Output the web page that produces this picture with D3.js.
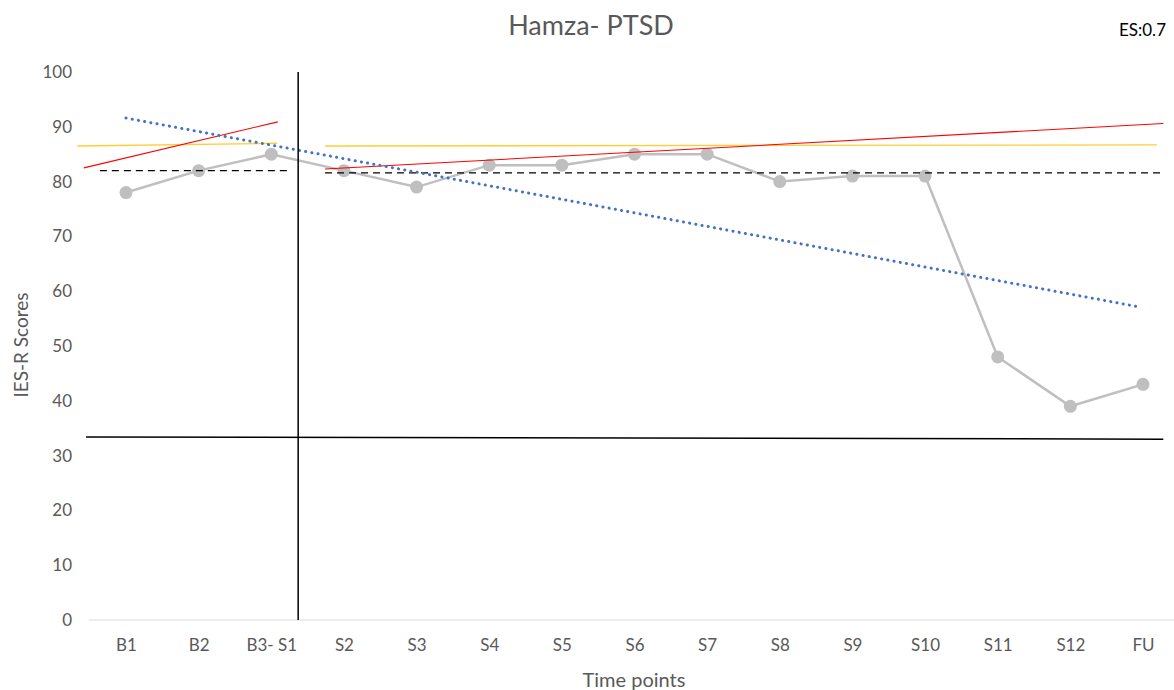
<!DOCTYPE html>
<html>
<head>
<meta charset="utf-8">
<script src="https://cdn.jsdelivr.net/npm/d3@7"></script>
<style>
  html, body { margin: 0; padding: 0; background: #fff; }
  svg { display: block; font-family: Lato, "Open Sans", sans-serif; }
</style>
</head>
<body>
<svg id="chart" width="1174" height="690"></svg>
<script>
// Time points and IES-R scores
const categories = ["B1", "B2", "B3- S1", "S2", "S3", "S4", "S5", "S6", "S7", "S8", "S9", "S10", "S11", "S12", "FU"];
const scores = [78, 82, 85, 82, 79, 83, 83, 85, 85, 80, 81, 81, 48, 39, 43];
const yTicks = [0, 10, 20, 30, 40, 50, 60, 70, 80, 90, 100];

// Reference lines, as [startIndex, startValue, endIndex, endValue] on the category index scale
const baselineMean   = [-0.36, 82.0, 2.26, 82.0];
const treatmentMean  = [2.74, 81.6, 14.28, 81.6];
const baselineLevel  = [-0.67, 86.5, 2.08, 87.0];
const treatmentLevel = [2.74, 86.5, 14.19, 86.7];
const baselineTrend  = [-0.58, 82.5, 2.09, 90.9];
const treatmentTrend = [2.74, 82.3, 14.28, 90.6];
const overallTrend   = [0.0, 91.6, 13.96, 57.1];
const phaseChange    = [2.37, 0, 2.37, 100];
const cutoffLine     = [-0.55, 33.4, 14.28, 33.0];

const svg = d3.select("#chart");

const x = d3.scaleLinear().domain([0, categories.length - 1]).range([126, 1143]);
const y = d3.scaleLinear().domain([0, 100]).range([620, 72]);

// Category baseline
svg.append("line")
  .attr("x1", 89).attr("x2", 1174)
  .attr("y1", y(0)).attr("y2", y(0))
  .attr("stroke", "#d9d9d9").attr("stroke-width", 1.2);

// Y axis labels
const yAxis = d3.axisLeft(y).tickValues(yTicks).tickSize(0).tickPadding(0);
const gy = svg.append("g").attr("transform", "translate(72,0)").call(yAxis);
gy.select(".domain").remove();
gy.selectAll("text").attr("font-size", 17).attr("fill", "#595959")
  .attr("font-family", "Lato, 'Open Sans', sans-serif");

// X axis labels
const xAxis = d3.axisBottom(x).tickValues(d3.range(categories.length))
  .tickFormat(i => categories[i]).tickSize(0).tickPadding(0);
const gx = svg.append("g").attr("transform", "translate(0,639)").call(xAxis);
gx.select(".domain").remove();
gx.selectAll("text").attr("font-size", 17).attr("fill", "#595959")
  .attr("font-family", "Lato, 'Open Sans', sans-serif");

// Helper to draw a segment given in data space
function seg(d, stroke, width, dash) {
  const l = svg.append("line")
    .attr("x1", x(d[0])).attr("y1", y(d[1]))
    .attr("x2", x(d[2])).attr("y2", y(d[3]))
    .attr("stroke", stroke).attr("stroke-width", width);
  if (dash) l.attr("stroke-dasharray", dash);
  return l;
}

// Level lines (yellow)
seg(baselineLevel, "#ffc000", 1.3).attr("stroke-opacity", 0.8);
seg(treatmentLevel, "#ffc000", 1.3).attr("stroke-opacity", 0.8);

// Score series
const line = d3.line().x((d, i) => x(i)).y(d => y(d));
svg.append("path").datum(scores)
  .attr("d", line).attr("fill", "none")
  .attr("stroke", "#bfbfbf").attr("stroke-width", 2.5);
svg.selectAll("circle.pt").data(scores).join("circle")
  .attr("class", "pt")
  .attr("cx", (d, i) => x(i)).attr("cy", d => y(d)).attr("r", 6.5)
  .attr("fill", "#bfbfbf");

// Mean lines (black dashed)
seg(baselineMean, "#000", 1.3, "7,5");
seg(treatmentMean, "#000", 1.3, "7,5");

// Phase trend lines (red)
seg(baselineTrend, "#ff0000", 1.1);
seg(treatmentTrend, "#ff0000", 1.1);

// Overall linear trend (blue dotted)
seg(overallTrend, "#4472c4", 3, "0.1,6.2").attr("stroke-linecap", "round");

// Phase change and cut-off lines
seg(phaseChange, "#000", 1.5);
seg(cutoffLine, "#000", 1.5);

// Titles
svg.append("text").attr("x", 591).attr("y", 35).attr("text-anchor", "middle")
  .attr("font-size", 27).attr("fill", "#595959").text("Hamza- PTSD");
svg.append("text").attr("x", 1166).attr("y", 36).attr("text-anchor", "end")
  .attr("font-size", 17).attr("fill", "#000").text("ES:0.7");
svg.append("text").attr("x", 634).attr("y", 687).attr("text-anchor", "middle")
  .attr("font-size", 20).attr("fill", "#595959").text("Time points");
svg.append("text").attr("transform", "translate(28,345) rotate(-90)")
  .attr("text-anchor", "middle")
  .attr("font-size", 19).attr("fill", "#595959").text("IES-R Scores");
</script>
</body>
</html>
